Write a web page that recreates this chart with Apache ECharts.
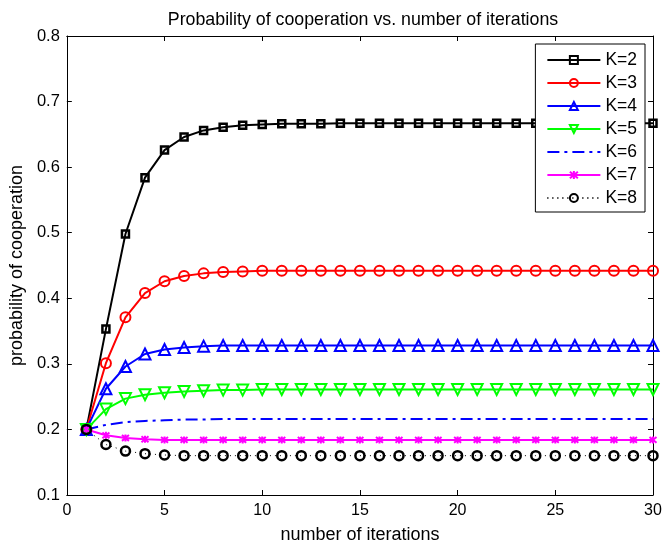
<!DOCTYPE html>
<html>
<head>
<meta charset="utf-8">
<script src="https://cdn.jsdelivr.net/npm/echarts@6/dist/echarts.min.js"></script>
<style>
  html, body { margin: 0; padding: 0; background: #fff; }
  #chart { width: 665px; height: 549px; }
</style>
</head>
<body>
<div id="chart"></div>
<script>
// iteration index 1..30
const iterations = [1,2,3,4,5,6,7,8,9,10,11,12,13,14,15,16,17,18,19,20,21,22,23,24,25,26,27,28,29,30];

const seriesNames = ['K=2', 'K=3', 'K=4', 'K=5', 'K=6', 'K=7', 'K=8'];

const k2 = [0.200,0.353,0.498,0.584,0.626,0.646,0.656,0.661,0.664,0.665,0.666,0.666,0.666,0.667,0.667,0.667,0.667,0.667,0.667,0.667,0.667,0.667,0.667,0.667,0.667,0.667,0.667,0.667,0.667,0.667];
const k3 = [0.200,0.301,0.371,0.408,0.426,0.434,0.438,0.440,0.441,0.442,0.442,0.442,0.442,0.442,0.442,0.442,0.442,0.442,0.442,0.442,0.442,0.442,0.442,0.442,0.442,0.442,0.442,0.442,0.442,0.442];
const k4 = [0.200,0.262,0.296,0.315,0.322,0.325,0.327,0.328,0.328,0.328,0.328,0.328,0.328,0.328,0.328,0.328,0.328,0.328,0.328,0.328,0.328,0.328,0.328,0.328,0.328,0.328,0.328,0.328,0.328,0.328];
const k5 = [0.200,0.231,0.247,0.253,0.256,0.258,0.259,0.260,0.260,0.261,0.261,0.261,0.261,0.261,0.261,0.261,0.261,0.261,0.261,0.261,0.261,0.261,0.261,0.261,0.261,0.261,0.261,0.261,0.261,0.261];
const k6 = [0.200,0.207,0.211,0.213,0.214,0.215,0.215,0.216,0.216,0.216,0.216,0.216,0.216,0.216,0.216,0.216,0.216,0.216,0.216,0.216,0.216,0.216,0.216,0.216,0.216,0.216,0.216,0.216,0.216,0.216];
const k7 = [0.200,0.191,0.187,0.185,0.184,0.184,0.184,0.184,0.184,0.184,0.184,0.184,0.184,0.184,0.184,0.184,0.184,0.184,0.184,0.184,0.184,0.184,0.184,0.184,0.184,0.184,0.184,0.184,0.184,0.184];
const k8 = [0.200,0.177,0.167,0.163,0.161,0.160,0.160,0.160,0.160,0.160,0.160,0.160,0.160,0.160,0.160,0.160,0.160,0.160,0.160,0.160,0.160,0.160,0.160,0.160,0.160,0.160,0.160,0.160,0.160,0.160];

const xTicks = [0, 5, 10, 15, 20, 25, 30];
const yTicks = [0.1, 0.2, 0.3, 0.4, 0.5, 0.6, 0.7, 0.8];

const FONT = "'Liberation Sans', Arial, Helvetica, sans-serif";
const pairs = ys => iterations.map((x, i) => [x, ys[i]]);

// asterisk marker: vertical stroke plus two diagonals
const starPath = 'path://M0,0L10,10M10,0L0,10M5,-1L5,11';

function lineSeries(name, ys, color, symbol, size, lineType, lineWidth, markerWidth) {
  return {
    name: name,
    type: 'line',
    data: pairs(ys),
    symbol: symbol,
    symbolSize: size,
    showSymbol: true,
    animation: false,
    lineStyle: { color: color, width: lineWidth, type: lineType },
    itemStyle: { color: 'rgba(255,255,255,0)', borderColor: color, borderWidth: markerWidth },
    emphasis: { disabled: true }
  };
}

const chart = echarts.init(document.getElementById('chart'), null, { renderer: 'canvas' });

const axisCommon = {
  type: 'value',
  axisLine: { show: true, onZero: false, lineStyle: { color: '#000', width: 1 } },
  axisTick: { show: true, inside: true, length: 5, lineStyle: { color: '#000' } },
  splitLine: { show: false }
};

// dash-dot line without markers
const k6Series = lineSeries('K=6', k6, '#0000ff', 'circle', 1, [12, 5, 3, 5], 2, 0);
k6Series.showSymbol = false;
k6Series.itemStyle = { color: 'rgba(0,0,0,0)', borderColor: 'rgba(0,0,0,0)', borderWidth: 0 };

const k5Series = lineSeries('K=5', k5, '#00ff00', 'triangle', 11, 'solid', 2, 2);
k5Series.symbolRotate = 180;

chart.setOption({
  backgroundColor: '#fff',
  textStyle: { fontFamily: FONT, color: '#000' },
  title: {
    text: 'Probability of cooperation vs. number of iterations',
    left: 358,
    top: 6,
    textAlign: 'center',
    textStyle: { fontFamily: FONT, fontSize: 17.8, fontWeight: 'normal', color: '#000' }
  },
  grid: { left: 66, right: 12, top: 36, bottom: 52, containLabel: false },
  legend: {
    orient: 'vertical',
    right: 20,
    top: 44,
    data: seriesNames,
    itemWidth: 53,
    itemHeight: 10,
    itemGap: 5,
    padding: [7, 8, 5, 11],
    backgroundColor: '#fff',
    borderColor: '#000',
    borderWidth: 1,
    borderRadius: 0,
    textStyle: { fontFamily: FONT, fontSize: 17.5, color: '#000' }
  },
  xAxis: [
    Object.assign({}, axisCommon, {
      min: 0, max: 30, interval: 5,
      name: 'number of iterations',
      nameLocation: 'middle',
      nameGap: 31,
      nameTextStyle: { fontFamily: FONT, fontSize: 18, color: '#000' },
      axisLabel: { fontFamily: FONT, fontSize: 16, color: '#000', margin: 8,
        formatter: v => xTicks.includes(v) ? String(v) : '' }
    }),
    Object.assign({}, axisCommon, {
      position: 'top', min: 0, max: 30, interval: 5,
      axisLabel: { show: false }
    })
  ],
  yAxis: [
    Object.assign({}, axisCommon, {
      min: 0.1, max: 0.8, interval: 0.1,
      name: 'probability of cooperation',
      nameLocation: 'middle',
      nameGap: 37,
      nameTextStyle: { fontFamily: FONT, fontSize: 18, color: '#000' },
      axisLabel: { fontFamily: FONT, fontSize: 16.5, color: '#000', margin: 7,
        formatter: v => {
          const t = yTicks.find(y => Math.abs(y - v) < 1e-6);
          return t === undefined ? '' : t.toFixed(1);
        } }
    }),
    Object.assign({}, axisCommon, {
      position: 'right', min: 0.1, max: 0.8, interval: 0.1,
      axisLabel: { show: false }
    })
  ],
  series: [
    lineSeries('K=2', k2, '#000000', 'rect', 7, 'solid', 2, 2.5),
    lineSeries('K=3', k3, '#ff0000', 'circle', 10, 'solid', 2, 2),
    lineSeries('K=4', k4, '#0000ff', 'triangle', 11, 'solid', 2, 2),
    k5Series,
    k6Series,
    lineSeries('K=7', k7, '#ff00ff', starPath, 7, 'solid', 2, 2),
    lineSeries('K=8', k8, '#000000', 'circle', 9, [1, 4], 1, 2.5)
  ]
});
</script>
</body>
</html>
